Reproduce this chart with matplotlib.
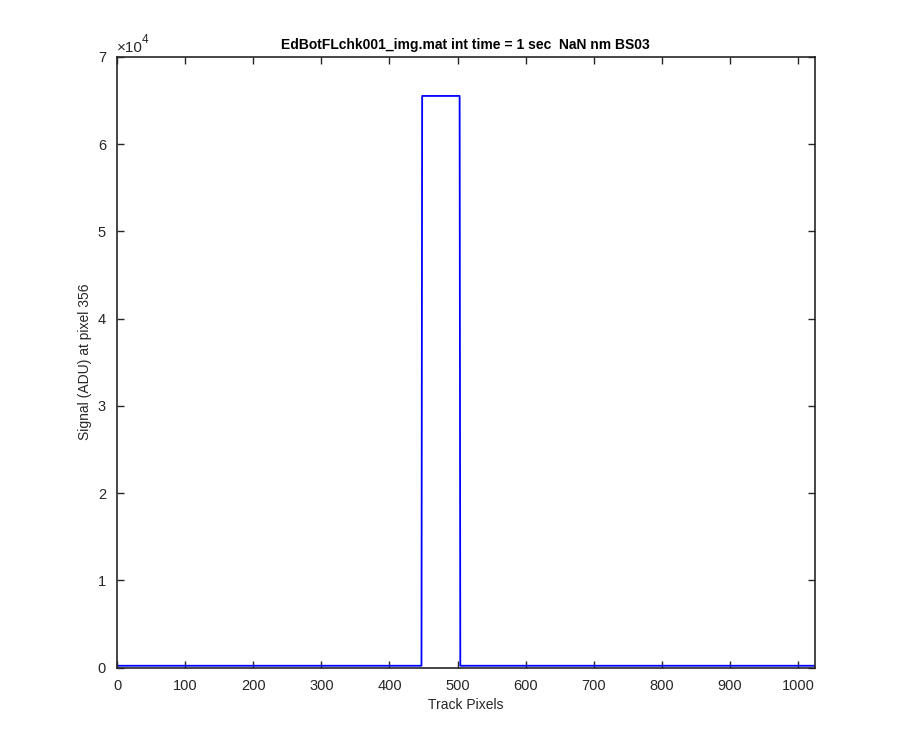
import matplotlib.pyplot as plt
import numpy as np

plt.rcParams["font.family"] = ["Liberation Sans", "DejaVu Sans"]

# signal: flat baseline with a saturated block
seg_start = [1, 448, 504]
seg_end = [447, 503, 1024]
seg_level = [200, 65535, 200]

x_ticks = [0, 100, 200, 300, 400, 500, 600, 700, 800, 900, 1000]
y_ticks = [0, 10000, 20000, 30000, 40000, 50000, 60000, 70000]
y_labels = ["0", "1", "2", "3", "4", "5", "6", "7"]

pix = np.arange(seg_start[0], seg_end[-1] + 1)
sig = np.concatenate([np.full(e - s + 1, v, dtype=float)
                      for s, e, v in zip(seg_start, seg_end, seg_level)])

ink = "#262626"
fig = plt.figure(figsize=(9, 7.5), dpi=100)
ax = fig.add_axes([0.13, 0.11, 0.775, 0.814])
ax.plot(pix, sig, color=(0, 0, 1), lw=1.3)

ax.set_xlim(0, 1024)
ax.set_ylim(0, 70000)
ax.set_xticks(x_ticks)
ax.set_yticks(y_ticks)
ax.set_yticklabels(y_labels)
ax.tick_params(direction="in", top=True, right=True, length=5,
               width=1.0, colors=ink, labelsize=10.5, pad=8)
for s in ax.spines.values():
    s.set_color(ink)
    s.set_linewidth(1.2)

ax.text(0.0, 1.004, "\u00d710", transform=ax.transAxes,
        fontsize=11, color=ink, ha="left", va="bottom")
ax.text(0.036, 1.018, "4", transform=ax.transAxes,
        fontsize=8.5, color=ink, ha="left", va="bottom")
ax.set_title("EdBotFLchk001_img.mat int time = 1 sec  NaN nm BS03",
             fontsize=10, fontweight="bold", color="black", pad=6)
ax.set_xlabel("Track Pixels", fontsize=10, color=ink, labelpad=4)
ax.set_ylabel("Signal (ADU) at pixel 356", fontsize=10, color=ink, labelpad=4)

fig.savefig("out.png", dpi=100)
